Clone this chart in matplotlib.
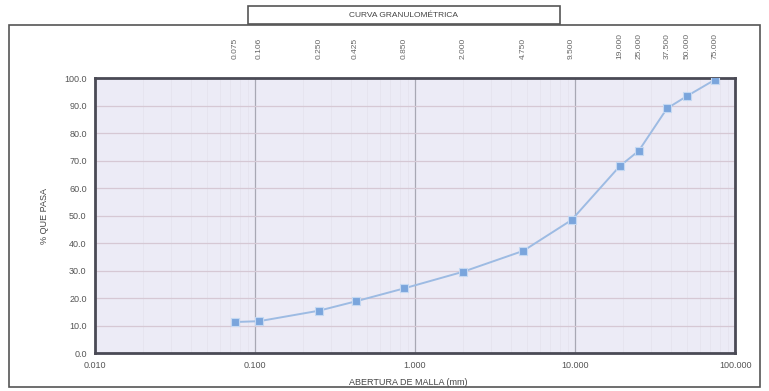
import matplotlib.pyplot as plt
from matplotlib.patches import Rectangle

# sieve openings (mm) and percent passing
abertura = [0.075, 0.106, 0.250, 0.425, 0.850, 2.000, 4.750, 9.500,
            19.000, 25.000, 37.500, 50.000, 75.000]
pasa = [11.3, 11.6, 15.4, 18.8, 23.5, 29.6, 37.2, 48.4,
        68.0, 73.6, 89.0, 93.5, 99.5]
top_labels = ['0.075', '0.106', '0.250', '0.425', '0.850', '2.000', '4.750',
              '9.500', '19.000', '25.000', '37.500', '50.000', '75.000']
x_ticks = [0.01, 0.1, 1, 10, 100]
x_labels = ['0.010', '0.100', '1.000', '10.000', '100.000']
y_ticks = list(range(0, 101, 10))

plt.rcParams['font.family'] = ['Liberation Sans', 'DejaVu Sans']

fig = plt.figure(figsize=(7.69, 3.91), dpi=100)
ax = fig.add_axes([0.1235, 0.097, 0.8325, 0.703])
ax.set_facecolor('#ecebf6')

ax.set_xscale('log')
ax.set_xlim(0.01, 100)
ax.set_ylim(0, 100)

ax.grid(True, which='major', axis='x', color='#a8a8b4', lw=0.9)
ax.grid(True, which='minor', axis='x', color='#e4e2ec', lw=0.5)
ax.grid(True, which='major', axis='y', color='#d6c8d4', lw=0.9)

ax.plot(abertura, pasa, '-', color='#9dbbe3', lw=1.4, zorder=3)
ax.plot(abertura, pasa, 's', color='#7aa5dc', ms=6, mec='#c4d8f2', mew=0.8, zorder=4)

ax.set_xticks(x_ticks)
ax.set_xticklabels(x_labels)
ax.set_yticks(y_ticks)
ax.set_yticklabels([f'{v:.1f}' for v in y_ticks])
ax.tick_params(axis='both', which='both', length=0, labelsize=6.5,
               labelcolor='#555555', pad=6)

for s in ax.spines.values():
    s.set_color('#4a4a55')
    s.set_linewidth(2)

ax.set_xlabel('ABERTURA DE MALLA (mm)', fontsize=6.5, color='#444444', labelpad=3)
ax.xaxis.set_label_coords(0.49, -0.09)
ax.set_ylabel('% QUE PASA', fontsize=6.5, color='#444444', labelpad=11)

# sieve sizes on the top
top = ax.secondary_xaxis('top')
top.set_xticks(abertura)
top.set_xticklabels(top_labels, rotation=90)
top.minorticks_off()
top.tick_params(length=0, labelsize=6, labelcolor='#666666', pad=14)
top.spines['top'].set_visible(False)

# outer frame and title box
fig.patches.append(Rectangle((0.012, 0.01), 0.976, 0.925, transform=fig.transFigure,
                             fill=False, ec='#555555', lw=1.2))
fig.patches.append(Rectangle((0.323, 0.938), 0.405, 0.047, transform=fig.transFigure,
                             fill=True, fc='white', ec='#555555', lw=1.2))
fig.text(0.525, 0.961, 'CURVA GRANULOMÉTRICA', ha='center', va='center',
         fontsize=6, color='#444444')

fig.savefig('out.png', dpi=100)
